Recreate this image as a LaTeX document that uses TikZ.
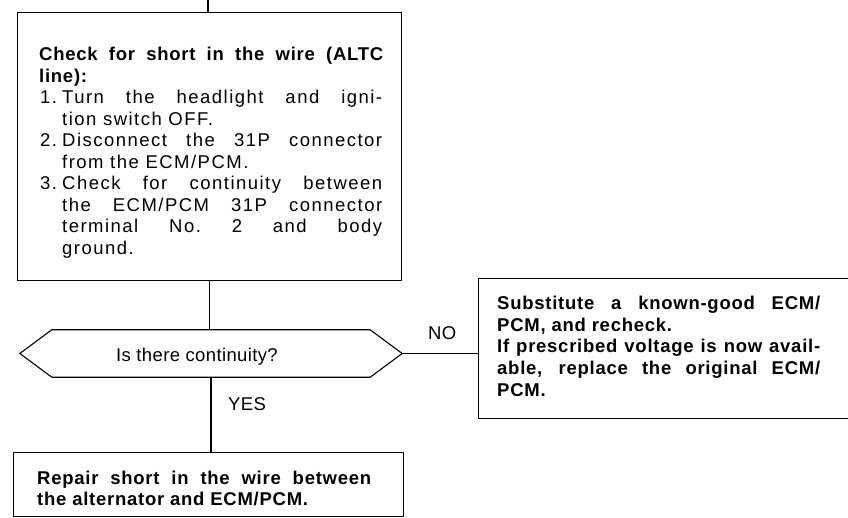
\documentclass[tikz,border=0pt]{standalone}
\usepackage{fontspec}
\setmainfont{Liberation Sans}
\newfontfamily\bodyfont[LetterSpace=8]{Liberation Sans}
\newfontfamily\headfont[LetterSpace=4]{Liberation Sans}
\newfontfamily\labfont[LetterSpace=2]{Liberation Sans}
\newcommand\jl[2]{\makebox[#1][s]{#2}}
\tikzset{
  box/.style={draw, line width=1.1pt, inner sep=0pt, anchor=north west},
  txt/.style={inner sep=0pt, anchor=base west},
  lbl/.style={inner sep=0pt, anchor=base west, font=\labfont\fontsize{18.5}{21.5}\selectfont},
  conn/.style={line width=1.1pt},
  hexa/.style={line width=1.1pt},
}
\begin{document}
\begin{tikzpicture}[x=1pt,y=-1pt]
\useasboundingbox (0,0) rectangle (848,518);
\clip (0,0) rectangle (848,518);

% boxes
\node[box, minimum width=384pt, minimum height=268pt] (b1) at (17,12) {};
\node[inner sep=0pt, minimum width=382pt, minimum height=47pt] (dec) at (211,353.5) {};
\draw[hexa] (dec.west) -- ([xshift=32pt]dec.north west) -- ([xshift=-32pt]dec.north east)
  -- (dec.east) -- ([xshift=-32pt]dec.south east) -- ([xshift=32pt]dec.south west) -- cycle;
\node[box, minimum width=400pt, minimum height=140pt] (b4) at (478,278) {};
\node[box, minimum width=390pt, minimum height=64pt] (b3) at (13,452) {};

% texts
\node[txt] (t1) at (39,61) {\parbox[t]{344pt}{\bodyfont\fontsize{18.5}{21.5}\selectfont
{\headfont\bfseries\jl{344pt}{Check for short in the wire (ALTC}}\\
{\headfont\bfseries line):}\\
\hspace*{1pt}\makebox[22pt][l]{1.}\jl{320pt}{Turn the headlight and igni-}\\
\hspace*{23pt}tion switch OFF.\\
\hspace*{1pt}\makebox[22pt][l]{2.}\jl{320pt}{Disconnect the 31P connector}\\
\hspace*{23pt}from the ECM/PCM.\\
\hspace*{1pt}\makebox[22pt][l]{3.}\jl{320pt}{Check for continuity between}\\
\hspace*{23pt}\jl{320pt}{the ECM/PCM 31P connector}\\
\hspace*{23pt}\jl{320pt}{terminal No.\ 2 and body}\\
\hspace*{23pt}ground.}};

\node[inner sep=0pt, anchor=base, font=\labfont\fontsize{18.5}{21.5}\selectfont] (q) at (197,361) {Is there continuity?};

\node[txt] (t4) at (497,310) {\parbox[t]{323pt}{\headfont\bfseries\fontsize{18.5}{21.5}\selectfont
\jl{323pt}{Substitute a known-good ECM/}\\
PCM, and recheck.\\
\jl{323pt}{If prescribed voltage is now avail-}\\
\jl{323pt}{able, replace the original ECM/}\\
PCM.}};

\node[txt] (t3) at (37,484) {\parbox[t]{334pt}{\headfont\bfseries\fontsize{18.5}{21.5}\selectfont
\jl{334pt}{Repair short in the wire between}\\
the alternator and ECM/PCM.}};

% connectors
\coordinate (top) at (208,0);
\draw[conn] (top) -- (top |- b1.north);
\draw[conn] (b1.south) -- (b1.south |- dec.north);
\draw[conn] (dec.east) -- (dec.east -| b4.west);
\draw[conn] (dec.south) -- (dec.south |- b3.north);

\node[lbl] (no) at (428,339) {NO};
\node[lbl] (yes) at (228,410) {YES};
\end{tikzpicture}
\end{document}
